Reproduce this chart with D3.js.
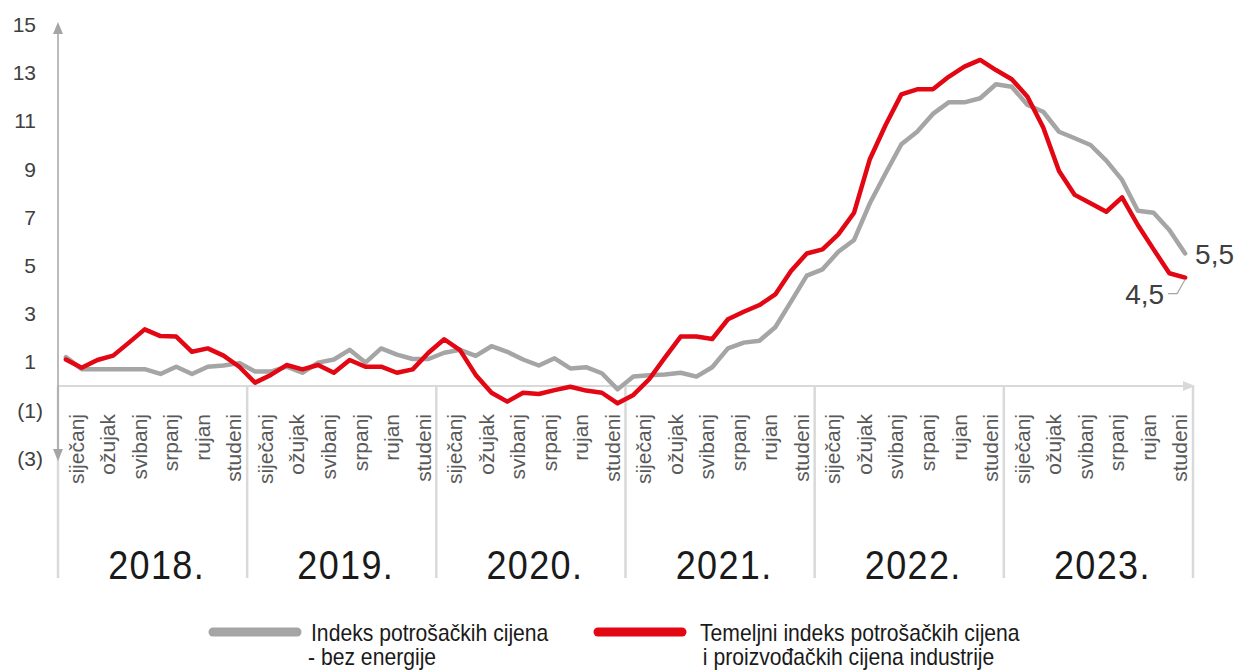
<!DOCTYPE html>
<html>
<head>
<meta charset="utf-8">
<script src="https://cdn.jsdelivr.net/npm/d3@7"></script>
<style>
html,body{margin:0;padding:0;background:#fff;}
svg{display:block;font-family:"Liberation Sans",Arial,sans-serif;}
</style>
</head>
<body>
<svg id="chart" width="1234" height="670"></svg>
<script>
const years = ["2018.","2019.","2020.","2021.","2022.","2023."];
const monthLabels = ["siječanj","","ožujak","","svibanj","","srpanj","","rujan","","studeni",""];
const yTicks = [15,13,11,9,7,5,3,1,-1,-3];

// Indeks potrošačkih cijena - bez energije
const cpiExEnergy = [
  1.2,0.7,0.7,0.7,0.7,0.7,0.5,0.8,0.5,0.8,0.85,0.95,
  0.6,0.6,0.8,0.55,0.97,1.1,1.5,0.97,1.56,1.3,1.12,1.12,
  1.38,1.5,1.25,1.65,1.42,1.1,0.85,1.15,0.73,0.78,0.53,-0.14,
  0.39,0.45,0.48,0.55,0.39,0.78,1.56,1.8,1.88,2.44,3.5,4.58,
  4.84,5.57,6.06,7.58,8.83,10.03,10.55,11.29,11.77,11.77,11.94,12.52,
  12.42,11.66,11.38,10.55,10.28,10.0,9.35,8.55,7.27,7.19,6.47,5.5
];
// Temeljni indeks potrošačkih cijena i proizvođačkih cijena industrije
const coreIndex = [
  1.1,0.76,1.08,1.26,1.8,2.35,2.07,2.05,1.42,1.56,1.26,0.8,
  0.14,0.46,0.87,0.69,0.87,0.55,1.08,0.8,0.8,0.55,0.69,1.38,
  1.94,1.49,0.46,-0.28,-0.65,-0.28,-0.33,-0.17,-0.03,-0.19,-0.28,-0.72,
  -0.37,0.28,1.18,2.05,2.05,1.95,2.77,3.08,3.36,3.8,4.77,5.5,
  5.67,6.29,7.19,9.41,10.83,12.1,12.31,12.31,12.83,13.25,13.53,13.11,
  12.73,12.0,10.73,8.92,7.93,7.58,7.23,7.83,6.68,5.67,4.68,4.5
];
const seriesNames = [["Indeks potrošačkih cijena","- bez energije"],["Temeljni indeks potrošačkih cijena"," i proizvođačkih cijena industrije"]];
const endLabels = ["5,5","4,5"];

const GRAY = "#a5a5a5", RED = "#e30613", LIGHT = "#d9d9d9";
const svg = d3.select("#chart");
const n = cpiExEnergy.length;
const x = d3.scaleBand().domain(d3.range(n)).range([58, 1193]).padding(0);
const bw = x.bandwidth();
const y = d3.scaleLinear().domain([-3, 15]).range([458.3, 24.5]);
const px = i => x(i) + bw/2;
const bottom = 578;

// year separators
const sepX = d3.range(0, n + 1, 12).map(i => i < n ? x(i) : x.range()[1]);
svg.append("g").selectAll("line").data(sepX).join("line")
  .attr("x1", d => d).attr("x2", d => d)
  .attr("y1", y(0)).attr("y2", bottom)
  .attr("stroke", LIGHT).attr("stroke-width", 2.5);

// x axis line with arrow
svg.append("line").attr("x1", 58).attr("x2", 1186).attr("y1", y(0)).attr("y2", y(0))
  .attr("stroke", LIGHT).attr("stroke-width", 2);
svg.append("path").attr("d", `M1195,${y(0)} L1183,${y(0)-5} L1183,${y(0)+5} Z`).attr("fill", LIGHT);

// y axis with arrows
svg.append("line").attr("x1", 58).attr("x2", 58).attr("y1", 30).attr("y2", 452)
  .attr("stroke", GRAY).attr("stroke-width", 1.5);
svg.append("path").attr("d", "M58,22 L53,34 L63,34 Z").attr("fill", GRAY);
svg.append("path").attr("d", "M58,461 L53,449 L63,449 Z").attr("fill", GRAY);

// y tick labels
svg.append("g").selectAll("text").data(yTicks).join("text")
  .attr("x", d => d < 0 ? 43 : 36)
  .attr("y", d => y(d)).attr("dy", "0.36em")
  .attr("text-anchor", "end").attr("font-size", 21).attr("fill", "#404040")
  .text(d => d < 0 ? `(${-d})` : d);

// month labels
const monthData = [];
d3.range(n).forEach(i => { const m = monthLabels[i % 12]; if (m) monthData.push({i, m}); });
svg.append("g").selectAll("text").data(monthData).join("text")
  .attr("transform", d => `translate(${x(d.i) + bw + 10},414) rotate(-90)`)
  .attr("text-anchor", "end").attr("font-size", 21).attr("fill", "#595959")
  .text(d => d.m);

// year labels
svg.append("g").selectAll("text").data(years).join("text")
  .attr("transform", (d, k) => `translate(${(sepX[k] + sepX[k+1]) / 2 + 4},579) scale(0.9,1)`)
  .attr("text-anchor", "middle").attr("font-size", 40).attr("fill", "#1a1a1a")
  .attr("letter-spacing", 1.5)
  .text(d => d);

// lines
const line = d3.line().x((d, i) => px(i)).y(d => y(d));
svg.append("path").datum(cpiExEnergy).attr("d", line).attr("fill", "none")
  .attr("stroke", GRAY).attr("stroke-width", 4.5).attr("stroke-linejoin", "round").attr("stroke-linecap", "round");
svg.append("path").datum(coreIndex).attr("d", line).attr("fill", "none")
  .attr("stroke", RED).attr("stroke-width", 4.5).attr("stroke-linejoin", "round").attr("stroke-linecap", "round");

// end labels
const lx = px(n - 1);
svg.append("text").attr("x", lx + 10).attr("y", y(cpiExEnergy[n-1])).attr("dy", "0.36em")
  .attr("font-size", 28).attr("fill", "#404040").text(endLabels[0]);
const ly = y(coreIndex[n-1]);
svg.append("path").attr("d", `M${lx},${ly+2} L${lx-8},${ly+16} L${lx-17},${ly+16}`)
  .attr("fill", "none").attr("stroke", GRAY).attr("stroke-width", 1.2);
svg.append("text").attr("x", lx - 21).attr("y", ly + 16).attr("dy", "0.36em")
  .attr("text-anchor", "end").attr("font-size", 28).attr("fill", "#404040").text(endLabels[1]);

// legend
const legend = [{x1: 213, x2: 297, tx: 311, c: GRAY}, {x1: 598, x2: 682, tx: 700, c: RED}];
const lg = svg.append("g").selectAll("g").data(legend).join("g");
lg.append("line").attr("x1", d => d.x1).attr("x2", d => d.x2).attr("y1", 632).attr("y2", 632)
  .attr("stroke", d => d.c).attr("stroke-width", 9).attr("stroke-linecap", "round");
lg.append("text").attr("transform", d => `translate(${d.tx},641) scale(0.92,1)`)
  .attr("font-size", 23).attr("fill", "#1a1a1a")
  .text((d, k) => seriesNames[k][0]);
lg.append("text").attr("transform", d => `translate(${d.tx - 3},665) scale(0.92,1)`)
  .attr("font-size", 23).attr("fill", "#1a1a1a")
  .style("white-space", "pre")
  .text((d, k) => seriesNames[k][1]);
</script>
</body>
</html>
